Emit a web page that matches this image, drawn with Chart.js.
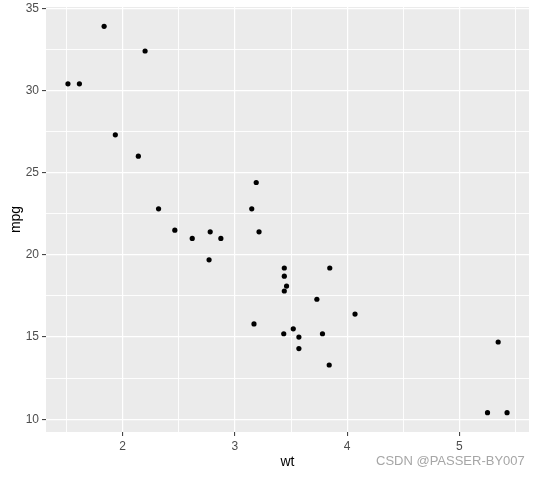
<!DOCTYPE html>
<html>
<head>
<meta charset="utf-8">
<script src="https://cdn.jsdelivr.net/npm/chart.js@4/dist/chart.umd.min.js"></script>
<style>
  html, body { margin: 0; padding: 0; background: #fff; }
  #wrap { position: relative; width: 538px; height: 477px; }
  #mark {
    position: absolute; left: 376px; top: 453px;
    font: 13px "Liberation Sans", Arial, sans-serif; color: #a6a6a6;
    white-space: nowrap;
  }
</style>
</head>
<body>
<div id="wrap">
  <canvas id="chart" width="538" height="477"></canvas>
  <div id="mark">CSDN @PASSER-BY007</div>
</div>
<script>
// mtcars: wt vs mpg
const wt  = [2.620, 2.875, 2.320, 3.215, 3.440, 3.460, 3.570, 3.190, 3.150, 3.440, 3.440,
             4.070, 3.730, 3.780, 5.250, 5.424, 5.345, 2.200, 1.615, 1.835, 2.465, 3.520,
             3.435, 3.840, 3.845, 1.935, 2.140, 1.513, 3.170, 2.770, 3.570, 2.780];
const mpg = [21.0, 21.0, 22.8, 21.4, 18.7, 18.1, 14.3, 24.4, 22.8, 19.2, 17.8,
             16.4, 17.3, 15.2, 10.4, 10.4, 14.7, 32.4, 30.4, 33.9, 21.5, 15.5,
             15.2, 13.3, 19.2, 27.3, 26.0, 30.4, 15.8, 19.7, 15.0, 21.4];

const xTicks = [1.5, 2, 2.5, 3, 3.5, 4, 4.5, 5, 5.5];
const yTicks = [10, 12.5, 15, 17.5, 20, 22.5, 25, 27.5, 30, 32.5, 35];
const xMajor = [2, 3, 4, 5];
const yMajor = [10, 15, 20, 25, 30, 35];

// ggplot style 5% expansion
const xMin = 1.513 - 0.05 * (5.424 - 1.513), xMax = 5.424 + 0.05 * (5.424 - 1.513);
const yMin = 10.4 - 0.05 * (33.9 - 10.4), yMax = 33.9 + 0.05 * (33.9 - 10.4);

const panelBg = {
  id: 'panelBg',
  beforeDraw(chart) {
    const { ctx, chartArea: a } = chart;
    ctx.save();
    ctx.fillStyle = '#EBEBEB';
    ctx.fillRect(a.left, a.top, a.right - a.left, a.bottom - a.top);
    ctx.restore();
  }
};

const font = { family: '"Liberation Sans", Arial, sans-serif', size: 12 };
const titleFont = { family: '"Liberation Sans", Arial, sans-serif', size: 14 };

function gridFor(major) {
  const isMajor = ctx => ctx.tick && major.includes(ctx.tick.value);
  return {
    color: '#FFFFFF',
    lineWidth: ctx => isMajor(ctx) ? 1.2 : 0.9,
    tickColor: ctx => isMajor(ctx) ? '#333333' : 'rgba(0,0,0,0)',
    tickWidth: 1,
    tickLength: 4,
    drawTicks: true
  };
}

new Chart(document.getElementById('chart'), {
  type: 'scatter',
  data: {
    datasets: [{
      data: wt.map((w, i) => ({ x: w, y: mpg[i] })),
      backgroundColor: '#000000',
      borderWidth: 0,
      pointRadius: 2.6,
      pointHoverRadius: 2.6
    }]
  },
  options: {
    responsive: false,
    animation: false,
    layout: { padding: { left: 0, right: 9, top: 7, bottom: 0 } },
    plugins: { legend: { display: false }, tooltip: { enabled: false } },
    scales: {
      x: {
        type: 'linear',
        min: xMin, max: xMax,
        afterBuildTicks: s => { s.ticks = xTicks.map(v => ({ value: v })); },
        afterFit: s => { s.height = 45; s.paddingLeft = 0; s.paddingRight = 0; },
        border: { display: false },
        grid: gridFor(xMajor),
        ticks: {
          color: '#4D4D4D', font, padding: 3,
          callback: v => xMajor.includes(v) ? String(v) : ''
        },
        title: { display: true, text: 'wt', color: '#000', font: titleFont, padding: { top: 0, bottom: 6 } }
      },
      y: {
        type: 'linear',
        min: yMin, max: yMax,
        afterBuildTicks: s => { s.ticks = yTicks.map(v => ({ value: v })); },
        afterFit: s => { s.width = 46; s.paddingTop = 0; s.paddingBottom = 0; },
        border: { display: false },
        grid: gridFor(yMajor),
        ticks: {
          color: '#4D4D4D', font, padding: 3,
          callback: v => yMajor.includes(v) ? String(v) : ''
        },
        title: { display: true, text: 'mpg', color: '#000', font: titleFont, padding: { top: 8, bottom: 0 } }
      }
    }
  },
  plugins: [panelBg]
});
</script>
</body>
</html>
